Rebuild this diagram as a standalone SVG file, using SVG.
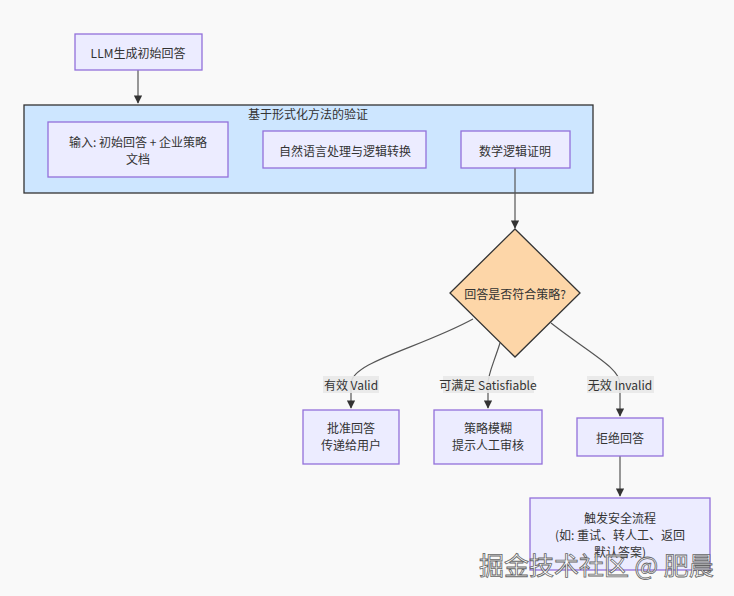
<svg xmlns="http://www.w3.org/2000/svg" width="734" height="596" viewBox="0 0 734 596">
<style>
.bg{fill:#f9f9f9}
.node rect{fill:#ECECFF;stroke:#9370DB;stroke-width:1.3}
.t{font-family:"Noto Sans CJK SC","Liberation Sans",sans-serif;font-size:12px;fill:#333;text-anchor:middle;dominant-baseline:central}
.edge{fill:none;stroke:#555;stroke-width:1.2}
.lbl{fill:#e8e8e8;opacity:0.9}
</style>
<defs>
<marker id="arr" viewBox="0 0 10 10" refX="9" refY="5" markerWidth="7" markerHeight="7" orient="auto-start-reverse">
<path d="M0,0 L10,5 L0,10 z" fill="#333"/>
</marker>
</defs>
<rect class="bg" x="0" y="0" width="734" height="596"/>
<g id="cluster">
<rect x="24" y="105" width="569" height="88" fill="#cde6ff" stroke="#333" stroke-width="1.3"/>
<text class="t" x="308" y="113">基于形式化方法的验证</text>
</g>
<g id="connectors">
<path class="edge" d="M138,70 L138,103" marker-end="url(#arr)"/>
<path class="edge" d="M515,168 L515,228" marker-end="url(#arr)"/>
<path class="edge" d="M473,319 C420,348 351,362 351,384 L351,408" marker-end="url(#arr)"/>
<path class="edge" d="M500,343 C493,365 488,374 488,384 L488,408" marker-end="url(#arr)"/>
<path class="edge" d="M551,323 C592,355 620,368 620,384 L620,416" marker-end="url(#arr)"/>
<path class="edge" d="M620,456 L620,496" marker-end="url(#arr)"/>
<rect class="lbl" x="323" y="376" width="56" height="17"/>
<text class="t" x="351" y="384">有效 Valid</text>
<rect class="lbl" x="443" y="376" width="91" height="17"/>
<text class="t" x="488" y="384">可满足 Satisfiable</text>
<rect class="lbl" x="587" y="376" width="67" height="17"/>
<text class="t" x="620" y="384">无效 Invalid</text>
</g>
<g id="n_llm" class="node">
<rect x="75" y="34" width="127" height="36"/>
<text class="t" x="138" y="52">LLM生成初始回答</text>
</g>
<g id="n_input" class="node">
<rect x="48" y="122" width="180" height="55"/>
<text class="t" x="138" y="141">输入: 初始回答 + 企业策略</text>
<text class="t" x="138" y="158">文档</text>
</g>
<g id="n_nlp" class="node">
<rect x="263" y="131" width="163" height="37"/>
<text class="t" x="345" y="150">自然语言处理与逻辑转换</text>
</g>
<g id="n_proof" class="node">
<rect x="461" y="131" width="109" height="37"/>
<text class="t" x="515" y="150">数学逻辑证明</text>
</g>
<g id="n_decision">
<polygon points="515,229 580,293 515,357 450,293" fill="#fdd6a8" stroke="#333" stroke-width="1.3"/>
<text class="t" x="515" y="293">回答是否符合策略?</text>
</g>
<g id="n_approve" class="node">
<rect x="303" y="410" width="96" height="54"/>
<text class="t" x="351" y="427">批准回答</text>
<text class="t" x="351" y="444">传递给用户</text>
</g>
<g id="n_fuzzy" class="node">
<rect x="434" y="410" width="108" height="54"/>
<text class="t" x="488" y="427">策略模糊</text>
<text class="t" x="488" y="444">提示人工审核</text>
</g>
<g id="n_reject" class="node">
<rect x="577" y="418" width="86" height="38"/>
<text class="t" x="620" y="437">拒绝回答</text>
</g>
<g id="n_safety" class="node">
<rect x="530" y="498" width="180" height="72"/>
<text class="t" x="620" y="517">触发安全流程</text>
<text class="t" x="620" y="534">(如: 重试、转人工、返回</text>
<text class="t" x="620" y="551">默认答案)</text>
</g>
<text x="479" y="575" font-family="Noto Sans CJK SC,sans-serif" font-size="25" fill="#fff" stroke="#555" stroke-width="0.8" opacity="0.9">掘金技术社区 @ 肥晨</text>
</svg>
